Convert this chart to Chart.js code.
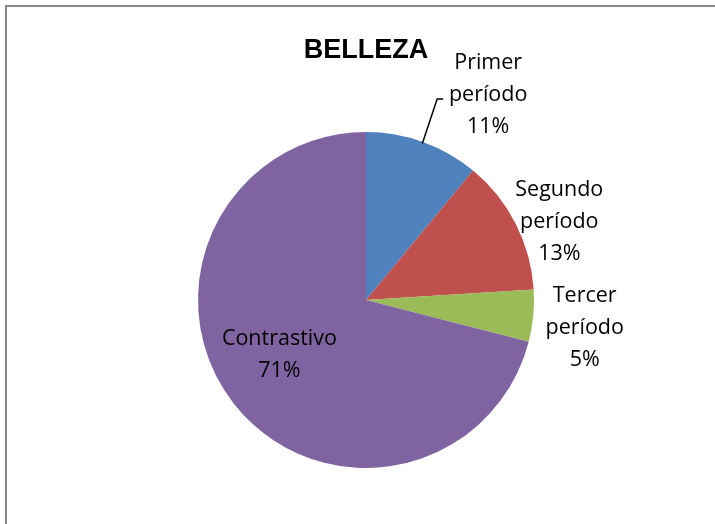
<!DOCTYPE html>
<html><head><meta charset="utf-8">
<script src="https://cdn.jsdelivr.net/npm/chart.js@4/dist/chart.umd.min.js"></script>
<style>
html,body{margin:0;padding:0;background:#fff;overflow:hidden;}
#wrap{position:relative;width:715px;height:524px;}
#frame{position:absolute;left:5px;top:5px;width:800px;height:600px;border-left:2px solid #888;border-top:2px solid #888;box-sizing:border-box;}
canvas{position:absolute;left:0;top:0;}
</style></head>
<body><div id="wrap"><div id="frame"></div><canvas id="c" width="715" height="524"></canvas></div>
<script>
const title = "BELLEZA";
const categories = ["Primer período", "Segundo período", "Tercer período", "Contrastivo"];
const values = [11, 13, 5, 71];
const colors = ["#4F81BD", "#C0504D", "#9BBB59", "#8064A2"];

// label placement: radial factor, angle shift (deg)
const labelPlace = [
  {f: 1.42, da: 11, dy: 0, lines: ["Primer", "período"]},
  {f: 1.25, da: 4, dy: 4, lines: ["Segundo", "período"]},
  {f: 1.31, da: 1, dy: 3, lines: ["Tercer", "período"]},
  {f: 0.60, da: 7, dy: 3, lines: ["Contrastivo"]}
];

const labelPlugin = {
  id: 'labels',
  afterDatasetsDraw(chart) {
    const ctx = chart.ctx;
    const meta = chart.getDatasetMeta(0);
    const total = values.reduce((a, b) => a + b, 0);
    ctx.save();
    ctx.fillStyle = '#000';
    ctx.textAlign = 'center';
    ctx.textBaseline = 'middle';
    ctx.font = 'bold 27px "Liberation Sans", Arial, sans-serif';
    ctx.fillText(title, (chart.chartArea.left + chart.chartArea.right) / 2, 51);
    ctx.font = '21.5px "Open Sans", sans-serif';
    meta.data.forEach((arc, i) => {
      const p = labelPlace[i];
      const mid = (arc.startAngle + arc.endAngle) / 2 + p.da * Math.PI / 180;
      const r = arc.outerRadius * p.f;
      const x = arc.x + Math.cos(mid) * r;
      const y = arc.y + Math.sin(mid) * r + p.dy;
      const lines = p.lines.concat([Math.round(values[i] / total * 100) + "%"]);
      const lh = 32;
      const y0 = y - (lines.length - 1) * lh / 2;
      lines.forEach((t, k) => ctx.fillText(t, x, y0 + k * lh));
      if (i === 0) {
        const am = (arc.startAngle + arc.endAngle) / 2;
        const ex = arc.x + Math.cos(am) * arc.outerRadius * 0.99;
        const ey = arc.y + Math.sin(am) * arc.outerRadius * 0.99;
        const tx = x - 51, ty = y0 + lh + 4;
        ctx.strokeStyle = '#000';
        ctx.lineWidth = 1.5;
        ctx.beginPath();
        ctx.moveTo(ex, ey);
        ctx.lineTo(tx, ty);
        ctx.lineTo(tx + 6, ty);
        ctx.stroke();
      }
    });
    ctx.restore();
  }
};

new Chart(document.getElementById('c'), {
  type: 'pie',
  data: {
    labels: categories,
    datasets: [{data: values, backgroundColor: colors, borderWidth: 0}]
  },
  options: {
    responsive: false,
    animation: false,
    layout: {padding: {left: 198, right: 181, top: 132, bottom: 56}},
    plugins: {legend: {display: false}, tooltip: {enabled: false}, title: {display: false}}
  },
  plugins: [labelPlugin]
});
</script></body></html>
